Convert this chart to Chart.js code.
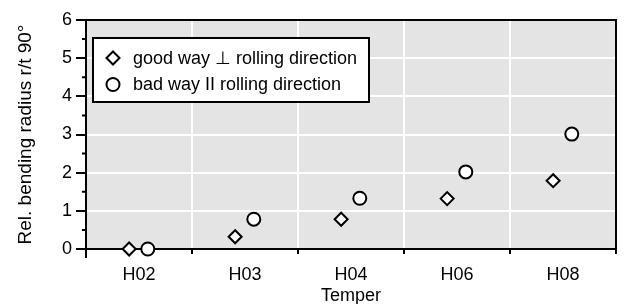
<!DOCTYPE html>
<html>
<head>
<meta charset="utf-8">
<script src="https://cdn.jsdelivr.net/npm/chart.js"></script>
<style>
  html, body { margin: 0; padding: 0; background: #fff; }
  #wrap { width: 626px; height: 304px; }
</style>
</head>
<body>
<div id="wrap"><canvas id="bendChart" width="626" height="304"></canvas></div>
<script>

// categories and values
const categories = ['H02', 'H03', 'H04', 'H06', 'H08'];
const goodWay = [0, 0.32, 0.78, 1.32, 1.79];
const badWay = [0, 0.78, 1.33, 2.02, 3.01];
const seriesLabels = ['good way \u22A5 rolling direction', 'bad way II rolling direction'];
const yMin = 0, yMax = 6;

const FONT = '"Liberation Sans", Arial, sans-serif';

// diamonds sit a bit left of the category centre, circles a bit right
const toPoints = (vals, shift) => vals.map((v, i) => ({ x: i + 0.5 + shift, y: v }));

const isWhole = v => Math.abs(v - Math.round(v)) < 1e-6;

// grey plot area, top/right frame, minor y ticks and the little legend box
const framePlugin = {
  id: 'frame',
  beforeDraw(chart) {
    const { ctx, chartArea: a } = chart;
    ctx.save();
    ctx.fillStyle = '#e4e4e4';
    ctx.fillRect(a.left, a.top, a.right - a.left, a.bottom - a.top);
    ctx.restore();
  },
  afterDatasetsDraw(chart) {
    const { ctx, chartArea: a, scales } = chart;
    ctx.save();
    ctx.strokeStyle = '#000';
    ctx.lineWidth = 2;
    ctx.beginPath();
    ctx.moveTo(a.left - 10, a.top);
    ctx.lineTo(a.right, a.top);
    ctx.lineTo(a.right, a.bottom);
    ctx.moveTo(a.left, a.bottom);
    ctx.lineTo(a.left, a.bottom + 9);
    for (let v = yMin + 0.5; v < yMax; v += 1) {
      const py = scales.y.getPixelForValue(v);
      ctx.moveTo(a.left - 4, py);
      ctx.lineTo(a.left, py);
    }
    ctx.stroke();

    // legend
    const bx = 93, by = 38, bw = 276, bh = 64;
    ctx.fillStyle = '#fff';
    ctx.fillRect(bx, by, bw, bh);
    ctx.strokeRect(bx, by, bw, bh);
    ctx.font = '18px ' + FONT;
    ctx.textBaseline = 'middle';
    chart.data.datasets.forEach((ds, i) => {
      const cy = by + 20 + i * 26.5;
      ctx.fillStyle = '#fff';
      ctx.strokeStyle = '#000';
      ctx.lineWidth = 2;
      Chart.helpers.drawPoint(ctx, {
        pointStyle: ds.pointStyle, radius: ds.pointRadius, borderWidth: 2
      }, bx + 20, cy);
      ctx.fillStyle = '#000';
      ctx.fillText(ds.label, bx + 40, cy + 1);
    });
    ctx.restore();
  }
};

new Chart(document.getElementById('bendChart'), {
  type: 'scatter',
  data: {
    datasets: [
      {
        label: seriesLabels[0],
        data: toPoints(goodWay, -0.093),
        pointStyle: 'rectRot',
        pointRadius: 6.5,
        borderWidth: 2,
        borderColor: '#000',
        backgroundColor: '#fff',
        clip: false
      },
      {
        label: seriesLabels[1],
        data: toPoints(badWay, 0.083),
        pointStyle: 'circle',
        pointRadius: 6.5,
        borderWidth: 2,
        borderColor: '#000',
        backgroundColor: '#fff',
        clip: false
      }
    ]
  },
  options: {
    responsive: false,
    animation: false,
    layout: { padding: { top: 20, right: 10, left: 0, bottom: 0 } },
    plugins: {
      legend: { display: false },
      tooltip: { enabled: false }
    },
    scales: {
      x: {
        type: 'linear',
        min: 0,
        max: categories.length,
        afterBuildTicks: scale => {
          scale.ticks = [];
          for (let v = 0; v <= categories.length + 1e-6; v += 0.5) scale.ticks.push({ value: v });
        },
        afterFit: scale => { scale.height = 55; },
        border: { display: true, color: '#000', width: 2 },
        grid: {
          drawOnChartArea: true,
          color: c => (isWhole(c.tick.value) && c.tick.value > 0 && c.tick.value < categories.length) ? '#ffffff' : 'rgba(0,0,0,0)',
          lineWidth: 2,
          tickColor: c => isWhole(c.tick.value) ? '#000' : 'rgba(0,0,0,0)',
          tickLength: 5,
          tickWidth: 2
        },
        ticks: {
          autoSkip: false,
          maxRotation: 0,
          padding: 10,
          color: '#000',
          font: { family: FONT, size: 18 },
          callback: v => isWhole(v) ? '' : categories[Math.floor(v)]
        },
        title: {
          display: true,
          text: 'Temper',
          color: '#000',
          font: { family: FONT, size: 18 },
          padding: { top: 0, bottom: -3 }
        }
      },
      y: {
        min: yMin,
        max: yMax,
        afterFit: scale => { scale.width = 86; },
        border: { display: true, color: '#000', width: 2 },
        grid: {
          color: c => (c.tick.value > yMin && c.tick.value < yMax) ? '#ffffff' : 'rgba(0,0,0,0)',
          lineWidth: 2,
          tickColor: '#000',
          tickLength: 10,
          tickWidth: 2
        },
        ticks: {
          stepSize: 1,
          padding: 4,
          color: '#000',
          font: { family: FONT, size: 18 }
        },
        title: {
          display: true,
          text: 'Rel. bending radius r/t 90\u00B0',
          color: '#000',
          font: { family: FONT, size: 19 },
          padding: { top: 14, bottom: 0 }
        }
      }
    }
  },
  plugins: [framePlugin]
});

</script>
</body>
</html>
